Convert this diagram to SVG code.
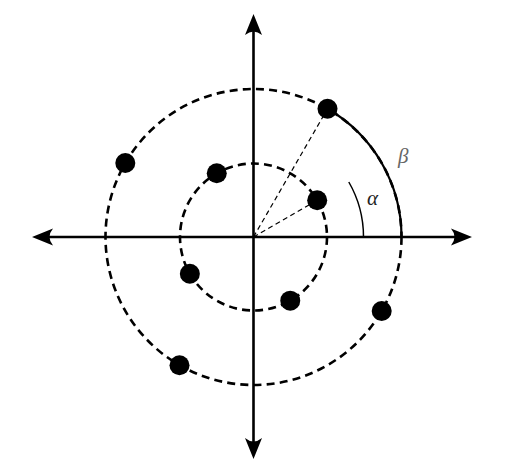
<svg xmlns="http://www.w3.org/2000/svg" width="505" height="468" viewBox="0 0 505 468">
<style>
.axis{stroke:#000;stroke-width:2.6;fill:none}
.circ{stroke:#000;stroke-width:2.6;fill:none;stroke-dasharray:8 5.2}
.ray{stroke:#000;stroke-width:1.2;fill:none;stroke-dasharray:5 3.5}
.dot{fill:#000}
.lbl{font-family:"Liberation Serif","DejaVu Serif",serif;font-style:italic;font-size:21px}
</style>
<defs>
<marker id="arr" markerUnits="userSpaceOnUse" viewBox="-22 -10 24 20" markerWidth="24" markerHeight="20" refX="-5" refY="0" orient="auto-start-reverse">
<path d="M0,0 L-21,-8.5 Q-14,0 -21,8.5 Z" fill="#000"/>
</marker>
</defs>
<g id="connectors">
<line class="axis" x1="37" y1="237" x2="467" y2="237" marker-start="url(#arr)" marker-end="url(#arr)"/>
<line class="axis" x1="253.5" y1="19" x2="253.5" y2="454" marker-start="url(#arr)" marker-end="url(#arr)"/>
<circle class="circ" cx="253.5" cy="237" r="148"/>
<circle class="circ" cx="253.5" cy="237" r="73.5"/>
<line class="ray" x1="253.5" y1="237" x2="327.5" y2="108.8"/>
<line class="ray" x1="253.5" y1="237" x2="317.2" y2="200.3"/>
<path d="M327.5,108.8 A148,148 0 0 1 401.5,237" stroke="#000" stroke-width="2.2" fill="none"/>
<path d="M348.8,182 A110,110 0 0 1 363.5,237" stroke="#000" stroke-width="1.5" fill="none"/>
</g>
<g id="outer-points">
<circle class="dot" cx="327.5" cy="108.8" r="10"/>
<circle class="dot" cx="125.3" cy="163" r="10"/>
<circle class="dot" cx="179.5" cy="365.2" r="10"/>
<circle class="dot" cx="381.7" cy="311" r="10"/>
</g>
<g id="inner-points">
<circle class="dot" cx="317.2" cy="200.3" r="10"/>
<circle class="dot" cx="216.75" cy="173.3" r="10"/>
<circle class="dot" cx="189.85" cy="273.75" r="10"/>
<circle class="dot" cx="290.25" cy="300.65" r="10"/>
</g>
<g id="labels">
<text class="lbl" x="398" y="163" fill="#666">β</text>
<text class="lbl" x="367" y="205" fill="#222">α</text>
</g>
</svg>
